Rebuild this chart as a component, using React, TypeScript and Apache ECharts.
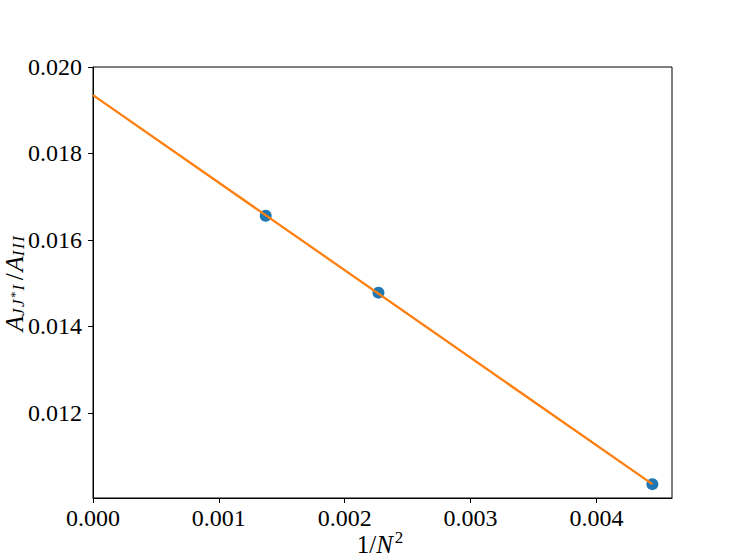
import React, { useEffect, useRef } from "react";
import * as echarts from "echarts";

const xPoints = [0.001372, 0.002268, 0.004444];
const yPoints = [0.01656, 0.01478, 0.01035];
const fitX = [0, 0.004444];
const fitY = [0.01935, 0.01035];
const xTicks = [0, 0.001, 0.002, 0.003, 0.004];
const yTicks = [0.012, 0.014, 0.016, 0.018, 0.02];

const FONT = "Liberation Serif";

export default function App() {
  const ref = useRef<HTMLDivElement>(null);
  useEffect(() => {
    document.body.style.margin = "0";
    const chart = echarts.init(ref.current!, null, { renderer: "svg" });
    chart.setOption({
      animation: false,
      grid: {
        left: 93,
        top: 67,
        right: 75,
        bottom: 62,
        show: true,
        borderColor: "#000",
        borderWidth: 1,
        backgroundColor: "#fff",
      },
      xAxis: {
        type: "value",
        min: 0,
        max: 0.0046,
        splitLine: { show: false },
        axisLine: { show: true, lineStyle: { color: "#000", width: 1 } },
        axisTick: {
          show: true,
          length: 5,
          lineStyle: { color: "#000" },
          customValues: xTicks,
        },
        axisLabel: {
          customValues: xTicks,
          formatter: (v: number) => v.toFixed(3),
          fontFamily: FONT,
          fontSize: 24,
          color: "#000",
          margin: 8,
        },
      },
      yAxis: {
        type: "value",
        min: 0.01003,
        max: 0.02,
        splitLine: { show: false },
        axisLine: { show: true, lineStyle: { color: "#000", width: 1 } },
        axisTick: {
          show: true,
          length: 5,
          lineStyle: { color: "#000" },
          customValues: yTicks,
        },
        axisLabel: {
          customValues: yTicks,
          formatter: (v: number) => v.toFixed(3),
          fontFamily: FONT,
          fontSize: 24,
          color: "#000",
          margin: 11,
        },
      },
      series: [
        {
          type: "scatter",
          data: xPoints.map((x, i) => [x, yPoints[i]]),
          symbolSize: 12,
          itemStyle: { color: "#1f77b4", opacity: 1 },
          z: 2,
        },
        {
          type: "line",
          data: fitX.map((x, i) => [x, fitY[i]]),
          showSymbol: false,
          symbol: "none",
          lineStyle: { color: "#ff7f0e", width: 2.3 },
          z: 3,
        },
      ],
      graphic: [
        {
          type: "text",
          x: 380,
          y: 544,
          style: {
            text: "{n|1/}{i|N}{sup|2}",
            align: "center",
            verticalAlign: "middle",
            fill: "#000",
            rich: {
              n: { fontFamily: FONT, fontSize: 25, fill: "#000" },
              i: { fontFamily: FONT, fontSize: 25, fontStyle: "italic", fill: "#000" },
              sup: { fontFamily: FONT, fontSize: 17, fill: "#000", padding: [0, 0, 13, 2] },
            },
          },
        },
        {
          type: "text",
          x: 14,
          y: 283,
          rotation: Math.PI / 2,
          style: {
            text: "{a|A}{s|J}{s|J}{st|*}{s|I}{m|/}{a|A}{s|I}{s|I}{s|I}",
            align: "center",
            verticalAlign: "middle",
            fill: "#000",
            rich: {
              a: { fontFamily: FONT, fontSize: 25, fontStyle: "italic", fill: "#000" },
              s: { fontFamily: FONT, fontSize: 17, fontStyle: "italic", fill: "#000", padding: [8, 1.5, 0, 0] },
              st: { fontFamily: FONT, fontSize: 13, fill: "#000", padding: [0, 1, 0, 0] },
              m: { fontFamily: FONT, fontSize: 25, fill: "#000", padding: [0, 2, 0, 3] },
            },
          },
        },
      ],
    });
    return () => chart.dispose();
  }, []);
  return <div ref={ref} style={{ width: 747, height: 560 }} />;
}
